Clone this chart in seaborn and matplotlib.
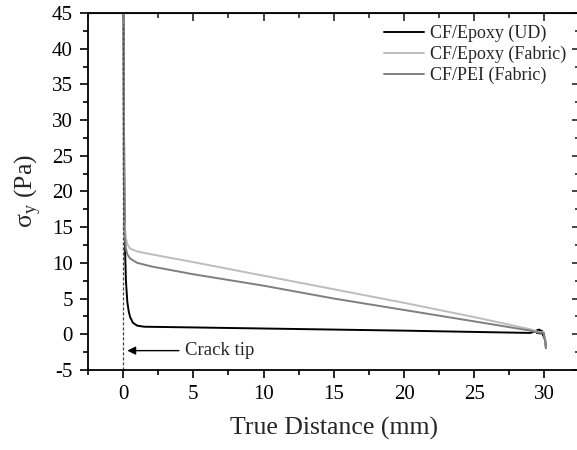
import seaborn as sns
import matplotlib.pyplot as plt
import pandas as pd

sns.set_style("ticks")
plt.rcParams['font.family'] = ['Liberation Serif', 'DejaVu Serif']
plt.rcParams['mathtext.fontset'] = 'custom'
plt.rcParams['mathtext.rm'] = 'Liberation Serif'
plt.rcParams['axes.unicode_minus'] = False

# ── Data ──────────────────────────────────────────────
ud_x = [0.03, 0.06, 0.1, 0.15, 0.2, 0.3, 0.4, 0.5, 0.7, 1.0, 1.5, 5, 10, 15, 20, 25,
        29.0, 29.35, 29.6, 29.85, 29.7, 29.45, 29.8, 30.05, 30.1]
ud_y = [48, 30, 18, 11, 7.5, 4.5, 3.2, 2.4, 1.6, 1.2, 1.05, 0.95, 0.8, 0.65, 0.5, 0.32,
        0.18, 0.45, 0.65, 0.4, 0.1, 0.2, 0.3, -0.8, -1.9]

fab_x = [0.02, 0.05, 0.1, 0.2, 0.3, 0.5, 1, 2, 5, 10, 15, 20, 25, 29, 29.6, 29.95, 30.1]
fab_y = [48, 25, 16, 13.5, 12.6, 12.0, 11.6, 11.2, 10.1, 8.2, 6.3, 4.4, 2.4, 0.7, 0.3, 0.3, -1.8]

pei_x = [0.02, 0.05, 0.1, 0.2, 0.3, 0.5, 1, 2, 5, 10, 15, 20, 25, 29, 29.6, 29.95, 30.1]
pei_y = [48, 22, 14, 12, 11.2, 10.6, 10.0, 9.5, 8.4, 6.8, 5.0, 3.4, 1.8, 0.5, 0.2, 0.2, -1.8]

series = [
    ("CF/Epoxy (UD)", ud_x, ud_y, "black"),
    ("CF/Epoxy (Fabric)", fab_x, fab_y, "#bdbdbd"),
    ("CF/PEI (Fabric)", pei_x, pei_y, "#7f7f7f"),
]

x_major = [0, 5, 10, 15, 20, 25, 30]
x_minor = [-2.5, 2.5, 7.5, 12.5, 17.5, 22.5, 27.5, 32.5]
y_major = list(range(-5, 46, 5))
y_minor = [y + 2.5 for y in range(-5, 41, 5)]

fig = plt.figure(figsize=(5.77, 4.5), dpi=100)
ax = fig.add_axes([0.1525, 0.178, 0.852, 0.793])

for name, xs, ys, col in series:
    df = pd.DataFrame({"x": xs, "y": ys})
    sns.lineplot(data=df, x="x", y="y", sort=False, estimator=None,
                 color=col, lw=1.4, label=name, ax=ax)

# crack tip marker
ax.plot([0, 0], [-5, 43.5], ls=(0, (2.5, 1.5)), color="#444444", lw=0.9)
ax.annotate("Crack tip", xy=(0.3, -2.3), xytext=(4.4, -2.3),
            va="center", ha="left", fontsize=13.5,
            arrowprops=dict(arrowstyle="-|>", color="black", lw=1, shrinkA=2, shrinkB=0,
                            mutation_scale=12))

ax.set_xlim(-2.5, 32.5)
ax.set_ylim(-5, 45)
ax.set_xticks(x_major)
ax.set_yticks(y_major)
ax.set_xticks(x_minor, minor=True)
ax.set_yticks(y_minor, minor=True)

ax.set_xlabel("True Distance (mm)", fontsize=18.5, labelpad=9)
ax.set_ylabel(r"σ$_\mathrm{y}$ (Pa)", fontsize=18.5, labelpad=6)

for s in ax.spines.values():
    s.set_linewidth(1.3)
    s.set_color("black")
ax.tick_params(axis="both", which="both", direction="out", labelsize=15,
               width=1.2, colors="black", pad=5)
ax.tick_params(which="major", length=6)
ax.tick_params(which="minor", length=3.5)

# top/right: inward ticks, no labels
top = ax.secondary_xaxis("top")
top.set_xticks(x_major)
top.set_xticks(x_minor, minor=True)
right = ax.secondary_yaxis("right")
right.set_yticks(y_major)
right.set_yticks(y_minor, minor=True)
for sec in (top, right):
    sec.tick_params(which="both", direction="in", width=1.2, labelsize=0,
                    labeltop=False, labelright=False)
    sec.tick_params(which="major", length=6)
    sec.tick_params(which="minor", length=3.5)

ax.legend(loc="upper right", frameon=False, fontsize=13,
          handlelength=2.2, handletextpad=0.35, labelspacing=0.22,
          borderaxespad=0.2, bbox_to_anchor=(0.995, 0.998))

fig.savefig("out.png", dpi=100)
